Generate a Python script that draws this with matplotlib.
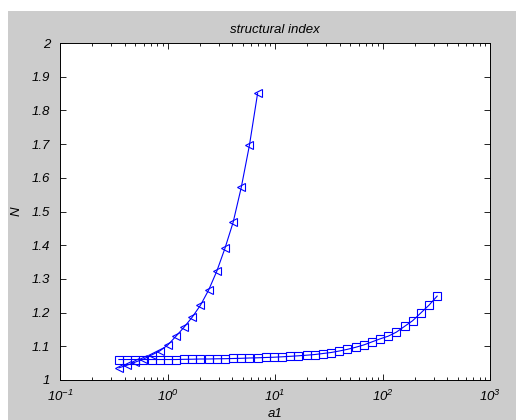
import numpy as np
import matplotlib
matplotlib.use("Agg")
import matplotlib.pyplot as plt
from matplotlib.patches import Rectangle
from matplotlib.ticker import LogLocator, FixedLocator, FuncFormatter

plt.rcParams['font.family'] = ['Liberation Sans', 'DejaVu Sans']
plt.rcParams['font.style'] = 'italic'
plt.rcParams['mathtext.fontset'] = 'custom'
plt.rcParams['mathtext.rm'] = 'Liberation Sans:italic'
plt.rcParams['mathtext.it'] = 'Liberation Sans:italic'

# a1 values
a1 = [0.353, 0.4205, 0.5008, 0.5964, 0.7103, 0.846, 1.0076, 1.2, 1.4292, 1.7022,
      2.0273, 2.4145, 2.8757, 3.4249, 4.0791, 4.8582, 5.7861, 6.8913, 8.2075, 9.7751,
      11.642, 13.866, 16.514, 19.668, 23.425, 27.899, 33.228, 39.574, 47.133, 56.135,
      66.857, 79.627, 94.836, 112.95, 134.52, 160.21, 190.81, 227.26, 270.66, 322.36]

# square series
n_squares = [1.0608, 1.0608, 1.0608, 1.0608, 1.0608, 1.0608, 1.0608, 1.0608, 1.0614, 1.0617,
             1.0623, 1.0623, 1.0629, 1.0632, 1.0638, 1.0644, 1.0653, 1.0659, 1.0668, 1.0676,
             1.0688, 1.0703, 1.0718, 1.0736, 1.0756, 1.0786, 1.0816, 1.086, 1.091, 1.097,
             1.104, 1.113, 1.122, 1.130, 1.142, 1.159, 1.176, 1.199, 1.222, 1.249]

# triangle series (first 18 a1 values)
n_triangles = [1.036, 1.044, 1.053, 1.062, 1.074, 1.086, 1.104, 1.130, 1.157, 1.187,
               1.222, 1.267, 1.323, 1.391, 1.468, 1.572, 1.697, 1.851]

W, H = 516, 420
fig = plt.figure(figsize=(W / 100, H / 100), dpi=100, facecolor='white')
fig.patches.append(Rectangle((8 / W, 0), 1, 1 - 11 / H, transform=fig.transFigure,
                             facecolor='#cccccc', edgecolor='none', zorder=-1))

ax = fig.add_axes([60 / W, (H - 380) / H, 430 / W, 337 / H])
ax.set_facecolor('white')

ax.plot(a1[:len(n_triangles)], n_triangles, '<-', color='blue', lw=0.8,
        markersize=6, markerfacecolor='none', markeredgecolor='blue', markeredgewidth=0.8)
ax.plot(a1, n_squares, 's-', color='blue', lw=0.8,
        markersize=6, markerfacecolor='none', markeredgecolor='blue', markeredgewidth=0.8)

ax.set_xscale('log')
ax.set_xlim(0.1, 1000)
ax.set_ylim(1, 2)
ax.xaxis.set_major_locator(LogLocator(base=10, numticks=10))
ax.xaxis.set_minor_locator(LogLocator(base=10, subs=np.arange(2, 10), numticks=20))
ax.yaxis.set_major_locator(FixedLocator(np.round(np.arange(1, 2.01, 0.1), 1)))
ax.yaxis.set_major_formatter(FuncFormatter(lambda v, p: f"{v:g}"))

ax.tick_params(which='both', direction='in', top=True, right=True, labelsize=9.5)
ax.tick_params(which='major', length=4, width=0.6)
ax.tick_params(which='minor', length=2, width=0.6)
ax.tick_params(axis='x', which='major', pad=6)
ax.tick_params(axis='y', which='major', pad=7)
for s in ax.spines.values():
    s.set_linewidth(0.7)

ax.set_title('structural index', fontsize=9.5, style='italic', pad=7)
ax.set_xlabel('a1', fontsize=9.5, style='italic', labelpad=3)
ax.set_ylabel('N', fontsize=9.5, style='italic', labelpad=7)

fig.savefig('out.png', dpi=100, facecolor=fig.get_facecolor())
